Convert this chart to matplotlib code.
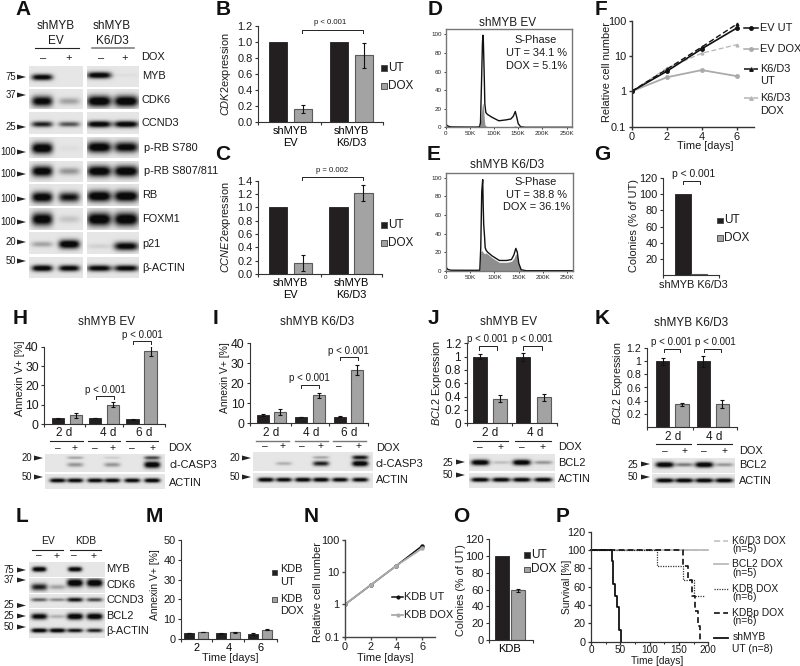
import numpy as np
import matplotlib
matplotlib.use('Agg')
import matplotlib.pyplot as plt
from matplotlib.patches import Polygon

plt.rcParams['font.family'] = ['Liberation Sans', 'DejaVu Sans']
plt.rcParams['mathtext.fontset'] = 'custom'
plt.rcParams['mathtext.it'] = 'Liberation Sans:italic'
plt.rcParams['mathtext.rm'] = 'Liberation Sans'

# ---------- data ----------
b_ut = [1.0, 1.0]; b_dox = [0.17, 0.83]; b_err_dox = [0.05, 0.15]
c_ut = [1.0, 1.0]; c_dox = [0.16, 1.21]; c_err_dox = [0.12, 0.12]
h_ut = [3.2, 3.4, 2.6]; h_dox = [4.7, 10.0, 37.8]; h_err_ut = [0.3, 0.1, 0.3]; h_err_dox = [1.2, 1.3, 2.4]
i_ut = [4.2, 3.2, 3.3]; i_dox = [5.7, 14.0, 26.7]; i_err_ut = [0.4, 0.1, 0.3]; i_err_dox = [1.3, 1.3, 2.4]
j_ut = [1.0, 1.0]; j_dox = [0.37, 0.39]; j_err_ut = [0.04, 0.06]; j_err_dox = [0.05, 0.05]
k_ut = [1.0, 1.0]; k_dox = [0.34, 0.35]; k_err_ut = [0.05, 0.08]; k_err_dox = [0.03, 0.06]
m_ut = [3.0, 2.8, 2.5]; m_dox = [3.5, 3.4, 4.7]; m_err_ut = [0.1, 0.3, 0.3]; m_err_dox = [0.2, 0.2, 0.3]
g_ut = [100]; g_dox = [1]
o_ut = [100]; o_dox = [59]; o_err_dox = [2]

growth_days = [0, 2, 4, 6]
f_ev_ut = [1, 3.7, 16, 62]
f_ev_dox = [1, 2.5, 4.0, 2.7]
f_k6_ut = [1, 4.2, 18, 80]
f_k6_dox = [1, 4.5, 12, 21]
n_kdb_ut = [1, 4.0, 16, 66]
n_kdb_dox = [1, 4.0, 16, 55]

flow_x = [0, 2, 4, 8, 12, 60, 70, 72, 74, 76, 77, 78, 80, 81, 83, 86, 95, 110, 125, 135, 140, 144, 147, 150, 155, 165, 262]
d_ut = [3, 2.5, 1.5, 0.7, 0.4, 0.2, 0.4, 5, 45, 90, 99, 92, 50, 25, 16, 14, 11, 7, 8, 9, 12, 17, 11, 4, 0.6, 0, 0]
d_dox = [0, 0, 0, 0, 0, 0, 0, 5, 16, 25, 26, 22, 8, 3, 1.5, 0.8, 0.5, 0.3, 0.3, 0.5, 1, 1.5, 1, 0.5, 0, 0, 0]
e_ut = [4, 3, 1.5, 0.8, 0.5, 0.4, 0.5, 25, 85, 98, 70, 50, 35, 25, 22, 20, 16, 11, 11, 12, 17, 24, 20, 8, 1, 0, 0]
e_dox = [0, 0, 0, 0, 0, 0, 0, 20, 22, 20, 20, 19, 18, 19, 19, 18, 14, 9, 9, 10, 13, 18, 16, 6, 0.5, 0, 0]

p_days_ut = [0, 36, 36, 38, 38, 41, 41, 44, 44, 47, 47, 52, 52]
p_surv_ut = [100, 100, 87.5, 87.5, 62.5, 62.5, 50, 50, 37.5, 37.5, 12.5, 12.5, 0]
p_days_kdb = [0, 113, 113, 157, 157, 160, 160, 175, 175, 195]
p_surv_kdb = [100, 100, 83, 83, 67, 67, 67, 67, 50, 50]
p_days_kdbp = [0, 157, 157, 165, 165, 172, 172, 177, 177, 182, 182, 186, 186]
p_surv_kdbp = [100, 100, 83, 83, 67, 67, 50, 50, 33, 33, 17, 17, 0]
p_days_k6 = [0, 200]; p_surv_k6 = [100, 100]
p_days_bcl2 = [0, 200]; p_surv_bcl2 = [100, 100]

# western blot band strengths per lane (0..1)
a_left = {'MYB': [.9, 0], 'CDK6': [.9, .25], 'CCND3': [.75, .55], 'S780': [1, .03], 'S807': [.95, .3],
          'RB': [.95, .8], 'FOXM1': [.95, .12], 'p21': [.25, 1], 'ACT': [.95, .9]}
a_right = {'MYB': [.95, .03], 'CDK6': [1, 1], 'CCND3': [.95, .95], 'S780': [.98, .9], 'S807': [.98, 1],
           'RB': [1, 1], 'FOXM1': [1, 1], 'p21': [.08, .9], 'ACT': [.9, .9]}
h_casp = [0, .3, 0, .3, 0, 1]; h_casp2 = [0, .25, 0, .1, 0, .6]; h_act = [.9, .9, .9, .9, .9, .95]
i_casp = [0, .2, 0, .75, 0, 1]; i_casp2 = [0, 0, 0, .25, 0, .8]; i_act = [.95, .9, .95, .95, .9, .9]
j_bcl2 = [1, .15, 1, .3]; j_act = [.95, .95, .95, .95]
k_bcl2 = [1, .4, 1, .3]; k_act = [.95, .95, .95, .95]
l_myb = [1, 0, .95, 0]; l_cdk6 = [.75, .25, 1, 1]; l_ccnd3 = [.5, .35, .8, .6]
l_bcl2 = [.9, .2, 1, 1]; l_act = [.95, .95, .8, .75]

DARK = '#231f20'; GREY = '#a3a3a3'; EDGE = '#5a5a5a'
W, H = 800, 666
FS = 1.06
fig = plt.figure(figsize=(8, 6.66), dpi=100)
ov = fig.add_axes([0, 0, 1, 1], zorder=5)
ov.set_xlim(0, W); ov.set_ylim(H, 0); ov.axis('off'); ov.patch.set_alpha(0)

def axbox(x0, y0, x1, y1):
    return fig.add_axes([x0 / W, 1 - y1 / H, (x1 - x0) / W, (y1 - y0) / H])

def T(x, y, s, size=7.5, ha='center', va='center', **kw):
    ov.text(x, y, s, fontsize=size * FS, ha=ha, va=va, color='#1a1a1a', **kw)

def LET(x, y, s):
    ov.text(x, y, s, fontsize=15, fontweight='bold', ha='center', va='center', color='#111111')

def bracket(x0, x1, ytop, ybot):
    ov.plot([x0, x0, x1, x1], [ybot, ytop, ytop, ybot], color='#222222', lw=0.7)

def hline(x0, x1, y, color='#222222', lw=0.8):
    ov.plot([x0, x1], [y, y], color=color, lw=lw)

def arrow(x, y, w=9, h=5):
    ov.add_patch(Polygon([[x, y - h / 2], [x + w, y], [x, y + h / 2]], closed=True, color='#222222', lw=0))

def sq(x, y, c, s=5.5):
    ov.add_patch(plt.Rectangle((x - s / 2, y - s / 2), s, s, fc=c, ec='#444444', lw=0.6))

def style(ax, color='#333333', lw=0.8):
    for s in ('top', 'right'):
        ax.spines[s].set_visible(False)
    for s in ('left', 'bottom'):
        ax.spines[s].set_color(color); ax.spines[s].set_linewidth(lw)
    ax.patch.set_alpha(0)
    ax.tick_params(colors='#1a1a1a', color=color, width=lw, length=2.5, pad=1.5, labelsize=7.5 * FS)

def bars(box, xlim, off, wid, ut, dox, ymax, yticks, ylabels=None, eu=None, ed=None, group=None, fs=7.5):
    ax = axbox(*box)
    style(ax)
    c = np.arange(len(ut))
    ax.bar(c - off, ut, wid, color=DARK, edgecolor=DARK, lw=0.6)
    ax.bar(c + off, dox, wid, color=GREY, edgecolor=EDGE, lw=0.8)
    ek = dict(fmt='none', ecolor='#111111', elinewidth=0.8, capsize=1.6, capthick=0.8)
    if eu is not None:
        ax.errorbar(c - off, ut, yerr=eu, **ek)
    if ed is not None:
        ax.errorbar(c + off, dox, yerr=ed, **ek)
    ax.set_xlim(*xlim); ax.set_ylim(0, ymax)
    ax.set_yticks(yticks)
    if ylabels is not None:
        ax.set_yticklabels(ylabels)
    ax.tick_params(axis='y', labelsize=fs * FS)
    edges = [xlim[0]] + [i + .5 for i in c[:-1]] + [xlim[1]]
    ax.set_xticks(edges); ax.set_xticklabels([])
    if group is not None:
        ax.set_xticks(c, minor=True); ax.set_xticklabels(group, minor=True, fontsize=fs * FS)
        ax.tick_params(axis='x', which='minor', length=0, pad=3)
    return ax

def blot(x0, y0, x1, y1, lanes, rows, bw=9.0, bg=0.86):
    """rows: list of (band_y_px, strengths, half height)"""
    xs = np.arange(x0, x1, 0.5); ys = np.arange(y0, y1, 0.5)
    X, Y = np.meshgrid(xs, ys)
    dark = np.zeros_like(X)
    for yb, vals, hh in rows:
        yb = yb if np.ndim(yb) else [yb] * len(vals)
        for lx, v, yy in zip(lanes, vals, yb):
            prof = np.exp(-((X - lx) / bw) ** 4) * np.exp(-((Y - yy) / (hh * (0.55 + 0.55 * v))) ** 2)
            dark += v * prof
    img = bg * (1 - np.clip(dark * 1.25, 0, 1)) + 0.04
    ov.imshow(img, extent=(x0, x1, y1, y0), cmap='gray', vmin=0, vmax=1, aspect='auto', interpolation='bilinear', zorder=1)
    ov.set_xlim(0, W); ov.set_ylim(H, 0)

# ---------- panel A ----------
LET(23, 9.5, 'A')
T(55.5, 26, 'shMYB', 8); T(55.5, 40.5, 'EV', 8)
T(112, 26, 'shMYB', 8); T(112, 40.5, 'K6/D3', 8)
hline(35, 79, 48); hline(92, 134, 48, color='#777777', lw=1.1)
for x, s in zip([43, 69, 101, 125], ['–', '+', '–', '+']):
    T(x, 58, s)
T(141.5, 56.5, 'DOX', 7.5, ha='left')
rows_y = [(66, 87), (89, 109), (112, 134), (137, 158), (161, 182), (184, 206), (208, 230), (232, 254), (257, 278)]
band_y = [77, 101, 124, 148, 171, 197, 219, 244, 268]
band_yr = [75, 101, 124, 147, 171, 196, 219, 246, 268]
names = ['MYB', 'CDK6', 'CCND3', 'S780', 'S807', 'RB', 'FOXM1', 'p21', 'ACT']
hh = [3, 5, 3, 5, 5, 5, 6, 4, 3]
for (y0, y1), yb, yr, n, h_ in zip(rows_y, band_y, band_yr, names, hh):
    blot(29, y0, 83, y1, [42, 69], [(yb, a_left[n], h_)], bw=10.5)
    blot(87, y0, 139, y1, [99, 126], [(yr, a_right[n], h_)], bw=12)
labs = ['MYB', 'CDK6', 'CCND3', 'p-RB S780', 'p-RB S807/811', 'RB', 'FOXM1', 'p21', 'β-ACTIN']
laby = [76, 100, 123, 148, 171, 195, 219, 244, 268]
labx = [142, 142, 142, 144, 144, 142, 142, 142, 142]
for s, x, y in zip(labs, labx, laby):
    T(x, y, s, 7.5, ha='left')
for s, y, xr in [('75', 77, 16), ('37', 95, 16), ('25', 127, 16), ('100', 152, 16), ('100', 174, 16), ('100', 199, 16), ('100', 222, 16), ('20', 242, 16), ('50', 261, 16)]:
    T(xr, y, s, 6.5, ha='right'); arrow(17, y)

# ---------- panel B ----------
LET(223, 9.5, 'B')
bars((258, 25.7, 383, 122.3), (-.53, 1.52), .205, .3, b_ut, b_dox, 1.2,
     [0, .2, .4, .6, .8, 1, 1.2], ['0.0', '0.2', '0.4', '0.6', '0.8', '1.0', '1.2'],
     ed=b_err_dox, group=['shMYB\nEV', 'shMYB\nK6/D3'], fs=7.5)
T(226, 74, r'$\mathit{CDK2}$expression', 7.5, rotation=90)
bracket(302, 363, 30, 33); T(330, 23, 'p < 0.001', 5.3)
sq(384, 68, DARK); T(388, 68, 'UT', 8, ha='left')
sq(384, 86, GREY); T(388, 86, 'DOX', 8, ha='left')

# ---------- panel C ----------
LET(223, 154, 'C')
bars((258, 180.7, 382, 274), (-.53, 1.51), .205, .3, c_ut, c_dox, 1.4,
     [0, .2, .4, .6, .8, 1, 1.2, 1.4], ['0.0', '0.2', '0.4', '0.6', '0.8', '1.0', '1.2', '1.4'],
     ed=c_err_dox, group=['shMYB\nEV', 'shMYB\nK6/D3'], fs=7.5)
T(226, 227, r'$\mathit{CCNE2}$expression', 7.5, rotation=90)
bracket(302, 363, 177, 180); T(332, 170, 'p = 0.002', 5.3)
sq(384, 225, DARK); T(388, 225, 'UT', 8, ha='left')
sq(384, 243, GREY); T(388, 243, 'DOX', 8, ha='left')

# ---------- panels D, E ----------
def flow(box, ut, dox, title, xt, yt, txt):
    ax = axbox(*box)
    ax.fill_between(flow_x, dox, color='#8e8e8e', lw=0)
    ax.plot(flow_x, ut, color='#111111', lw=1.0)
    ax.set_xlim(0, 262); ax.set_ylim(0, 105.4)
    ax.set_xticks([0, 50, 100, 150, 200, 250], ['0', '50K', '100K', '150K', '200K', '250K'])
    ax.set_yticks([0, 20, 40, 60, 80, 100])
    ax.tick_params(labelsize=4.5, length=1.5, width=0.6, pad=1.5, colors='#222222')
    for s in ax.spines.values():
        s.set_color('#777777'); s.set_linewidth(1.0)
    T(xt, yt, title, 8)
    for (x, y, s) in txt:
        T(x, y, s, 7.5)

LET(435, 9.5, 'D')
flow((445.7, 29.3, 572.3, 127.3), d_ut, d_dox, 'shMYB EV', 508, 22.5,
     [(535.5, 40, 'S-Phase'), (537, 53, 'UT = 34.1 %'), (537, 66, 'DOX = 5.1%')])
LET(434, 155, 'E')
flow((445.7, 172.7, 573.3, 270.7), e_ut, e_dox, 'shMYB K6/D3', 507, 165,
     [(535.5, 182, 'S-Phase'), (537, 195, 'UT = 38.8 %'), (537, 207.5, 'DOX = 36.1%')])

# ---------- panel F ----------
LET(601, 9.5, 'F')
ax = axbox(631.7, 20.7, 754.3, 126.7)
style(ax, lw=1.0)
ax.set_yscale('log')
ax.plot(growth_days, f_k6_dox, color='#b5b5b5', ls=(0, (4, 2)), lw=0.9, marker='^', ms=2)
ax.plot(growth_days, f_ev_dox, color='#aaaaaa', lw=1.3, marker='o', ms=2.5)
ax.plot(growth_days, f_ev_ut, color='#111111', lw=1.2, marker='o', ms=2.5)
ax.plot(growth_days, f_k6_ut, color='#111111', ls=(0, (4, 2)), lw=1.0, marker='^', ms=2)
ax.set_xlim(0, 7); ax.set_ylim(.1, 100)
ax.set_xticks([0, 2, 4, 6]); ax.set_yticks([.1, 1, 10, 100], ['0.1', '1', '10', '100'])
ax.minorticks_off()
T(606.5, 72, 'Relative cell number', 7.5, rotation=90)
T(705.5, 146, 'Time [days]', 7.5)
for y, c, ls, mk, lab in [(28, '#111111', '-', 'o', ['EV UT']), (49, '#aaaaaa', '-', 'o', ['EV DOX']),
                          (69, '#111111', (0, (4, 2)), '^', ['K6/D3', 'UT']), (98, '#b5b5b5', (0, (4, 2)), '^', ['K6/D3', 'DOX'])]:
    ov.plot([744, 758], [y, y], color=c, ls=ls, lw=1.1)
    ov.plot([751], [y], color=c, marker=mk, ms=2.5)
    T(760, y, lab[0], 7.5, ha='left')
    if len(lab) > 1:
        T(760, y + 12.5, lab[1], 7.5, ha='left')

# ---------- panel G ----------
LET(602, 155, 'G')
ax = bars((663, 178, 719, 275), (-.5, .5), .145, .29, g_ut, g_dox, 120, [20, 40, 60, 80, 100, 120], fs=7.5)
ax.set_xticks([-.5, .5]); ax.set_xticklabels([])
bracket(683, 699.5, 181, 184); T(693.5, 174, 'p < 0.001', 7)
T(693, 285, 'shMYB K6/D3', 7.5)
T(634, 226, 'Colonies (% of UT)', 7.5, rotation=90)
sq(720, 220.5, DARK); T(724, 220, 'UT', 8, ha='left')
sq(720, 238, GREY); T(724, 238, 'DOX', 8, ha='left')

# ---------- panel H ----------
LET(20, 319, 'H')
T(106.5, 322, 'shMYB EV', 8)
bars((44.3, 346.7, 165, 424.3), (-.6, 2.625), .24, .33, h_ut, h_dox, 40, [0, 10, 20, 30, 40],
     eu=h_err_ut, ed=h_err_dox, fs=8.2)
T(20, 378, 'Annexin V+ [%]', 7.5, rotation=90)
bracket(96, 114, 396, 399); T(105.5, 390, 'p < 0.001', 6.6)
bracket(132.5, 150.5, 341, 344); T(142.5, 335, 'p < 0.001', 6.6)
for x, s in zip([64.5, 108, 144.5], ['2 d', '4 d', '6 d']):
    T(x, 433.5, s, 8)
for a, b in [(50, 83), (87.5, 120), (126, 158)]:
    hline(a, b, 441)
lanes = [57.5, 75, 95, 112, 132, 152]
for x, s in zip(lanes, ['–', '+', '–', '+', '–', '+']):
    T(x, 448, s, 7)
T(168.5, 448, 'DOX', 7.5, ha='left')
blot(45, 454.5, 165, 472.5, lanes, [(465, h_casp, 3), (458, h_casp2, 2)], bw=8)
blot(45, 475, 165, 489.5, lanes, [(481, h_act, 2)], bw=8)
T(169, 465, 'cl-CASP3', 7.5, ha='left'); T(169, 482.5, 'ACTIN', 7.5, ha='left')
T(32, 458, '20', 6.5, ha='right'); arrow(34, 458)
T(32, 477, '50', 6.5, ha='right'); arrow(34, 477)

# ---------- panel I ----------
LET(216, 319, 'I')
T(317, 322, 'shMYB K6/D3', 8)
bars((250, 343.3, 368.3, 423.3), (-.565, 2.52), .225, .31, i_ut, i_dox, 40, [0, 10, 20, 30, 40],
     eu=i_err_ut, ed=i_err_dox, fs=8.2)
T(225, 378, 'Annexin V+ [%]', 7, rotation=90)
bracket(301, 319, 385, 388); T(309, 378, 'p < 0.001', 6.6)
bracket(339.5, 357.5, 357, 360); T(348, 351, 'p < 0.001', 6.6)
for x, s in zip([271, 311, 349], ['2 d', '4 d', '6 d']):
    T(x, 433, s, 8)
for a, b in [(256, 289), (295, 328), (333, 366)]:
    hline(a, b, 441, color='#777777', lw=1)
lanes = [265, 283, 302, 320, 339, 359]
for x, s in zip(lanes, ['–', '+', '–', '+', '–', '+']):
    T(x, 446, s, 7)
T(376.5, 448, 'DOX', 7.5, ha='left')
blot(252.5, 453, 372, 471.5, lanes, [(464, i_casp, 2.5), (458, i_casp2, 2)], bw=8)
blot(252.5, 473.5, 372, 488.5, lanes, [(480, i_act, 2)], bw=8)
T(376, 464, 'cl-CASP3', 7.5, ha='left'); T(376, 480, 'ACTIN', 7.5, ha='left')
T(240, 458, '20', 6.5, ha='right'); arrow(242, 458)
T(240, 477, '50', 6.5, ha='right'); arrow(242, 477)

# ---------- panel J ----------
LET(433, 319, 'J')
T(508.5, 322, 'shMYB EV', 8)
bars((466.7, 343.3, 557.3, 423.3), (-.54, 1.55), .238, .32, j_ut, j_dox, 1.2,
     [0, .2, .4, .6, .8, 1, 1.2], ['0', '0.2', '0.4', '0.6', '0.8', '1', '1.2'],
     eu=j_err_ut, ed=j_err_dox, fs=8)
T(437, 383, r'$\mathit{BCL2}$ Expression', 7.5, rotation=90)
bracket(479, 496.5, 346, 349.5); T(487.5, 339.5, 'p < 0.001', 6.6)
bracket(523, 541.5, 346, 349.5); T(532, 339.5, 'p < 0.001', 6.6)
T(490, 433.5, '2 d', 8); T(535, 433.5, '4 d', 8)
hline(472.5, 508, 441); hline(515, 551, 441)
lanes = [480, 501, 521.5, 543]
for x, s in zip(lanes, ['–', '+', '–', '+']):
    T(x, 447, s, 7)
T(558, 447, 'DOX', 7.5, ha='left')
blot(469, 454.5, 555, 471, lanes, [(462.5, j_bcl2, 2.5)])
blot(469, 473.5, 555, 488.5, lanes, [(480, j_act, 2)])
T(558, 462.5, 'BCL2', 7.5, ha='left'); T(558, 479, 'ACTIN', 7.5, ha='left')
T(453, 462.5, '25', 6.5, ha='right'); arrow(456, 462)
T(453, 475.5, '50', 6.5, ha='right'); arrow(456, 475)

# ---------- panel K ----------
LET(602, 319, 'K')
T(691.5, 323.5, 'shMYB K6/D3', 8)
bars((646.7, 348.3, 737.3, 426.7), (-.63, 1.6), .234, .33, k_ut, k_dox, 1.2,
     [.2, .4, .6, .8, 1, 1.2], ['0.2', '0.4', '0.6', '0.8', '1', '1.2'],
     eu=k_err_ut, ed=k_err_dox, fs=7.2)
T(618, 383, r'$\mathit{BCL2}$ Expression', 7.2, rotation=90)
bracket(663.5, 680, 348.5, 352); T(671.5, 342, 'p < 0.001', 6.6)
bracket(704, 721, 348.5, 352); T(715, 342, 'p < 0.001', 6.6)
T(673, 436.5, '2 d', 8); T(714, 436.5, '4 d', 8)
hline(656, 690.5, 444); hline(696.5, 732, 444)
lanes = [664.5, 684, 704, 724]
for x, s in zip(lanes, ['–', '+', '–', '+']):
    T(x, 451, s, 7)
T(739, 451, 'DOX', 7.5, ha='left')
blot(652, 458, 735, 473, lanes, [(464.5, k_bcl2, 2.5)])
blot(652, 475, 735, 488.5, lanes, [(481, k_act, 2)])
T(739, 464.5, 'BCL2', 7.5, ha='left'); T(739, 481, 'ACTIN', 7.5, ha='left')
T(638, 464.5, '25', 6.5, ha='right'); arrow(641, 464)
T(638, 477.5, '50', 6.5, ha='right'); arrow(641, 477)

# ---------- panel L ----------
LET(22, 517, 'L')
T(47.5, 541, 'EV', 7); T(85.5, 541, 'KDB', 7)
hline(32, 62.5, 549.5); hline(69.5, 100.5, 549.5)
lanes = [38.5, 56.5, 74, 93.5]
for x, s in zip(lanes, ['–', '+', '–', '+']):
    T(x, 555.5, s, 7)
blot(28.5, 562.5, 104, 577.5, lanes, [(569.5, l_myb, 2.3)], bw=7)
blot(28.5, 578.5, 104, 593, lanes, [([587, 587, 583, 583], l_cdk6, 3.5)], bw=8)
blot(28.5, 594.5, 104, 608.5, lanes, [(600, l_ccnd3, 2.2)], bw=8)
blot(28.5, 609.5, 104, 624, lanes, [(616.5, l_bcl2, 2.8)], bw=8)
blot(28.5, 625, 104, 638.5, lanes, [(631, l_act, 2)], bw=8)
for y, s in zip([569, 585, 600, 616, 631], ['MYB', 'CDK6', 'CCND3', 'BCL2', 'β-ACTIN']):
    T(106.5, y, s, 7.5, ha='left')
for y, s in zip([570, 580, 605.5, 616, 627], ['75', '37', '25', '25', '50']):
    T(14, y, s, 6.5, ha='right'); arrow(17, y)

# ---------- panel M ----------
LET(154, 517, 'M')
bars((181, 540, 277.3, 639), (-.48, 2.53), .22, .31, m_ut, m_dox, 50, [0, 10, 20, 30, 40, 50],
     eu=m_err_ut, ed=m_err_dox, group=['2', '4', '6'], fs=7.5)
T(230, 658, 'Time [days]', 7.5)
T(155, 585, 'Annexin V+ [%]', 7, rotation=90)
sq(274.5, 572.5, DARK); T(280.5, 569.5, 'KDB', 7.5, ha='left'); T(280.5, 582, 'UT', 7.5, ha='left')
sq(274.5, 599.5, GREY); T(280.5, 598.5, 'KDB', 7.5, ha='left'); T(280.5, 611, 'DOX', 7.5, ha='left')

# ---------- panel N ----------
LET(311, 517, 'N')
ax = axbox(345, 540, 435, 636.7)
style(ax, color='#444444', lw=1.0)
ax.set_yscale('log')
ax.plot(growth_days, n_kdb_ut, color='#111111', lw=1.1, marker='o', ms=2.2)
ax.plot(growth_days, n_kdb_dox, color='#aaaaaa', lw=1.3, marker='o', ms=2.2)
ax.set_xlim(0, 7); ax.set_ylim(.1, 100)
ax.set_xticks([0, 2, 4, 6]); ax.set_yticks([.1, 1, 10, 100], ['0.1', '1', '10', '100'])
ax.minorticks_off()
T(318, 592, 'Relative cell number', 7.5, rotation=90)
T(385, 658, 'Time [days]', 7.5)
ov.plot([392, 403], [597, 597], color='#111111', lw=1.1); ov.plot([398], [597], color='#111111', marker='o', ms=2)
T(404, 596.5, 'KDB UT', 7.5, ha='left')
ov.plot([392, 403], [615, 615], color='#aaaaaa', lw=1.3); ov.plot([398], [615], color='#aaaaaa', marker='o', ms=2)
T(404, 615, 'KDB DOX', 7.5, ha='left')

# ---------- panel O ----------
LET(461, 517, 'O')
ax = bars((489.3, 539, 533.3, 640), (-.47, .53), .18, .32, o_ut, o_dox, 120, [0, 20, 40, 60, 80, 100, 120],
          ed=o_err_dox, group=['KDB'], fs=7.6)
T(461, 590, 'Colonies (% of UT)', 7.3, rotation=90)
sq(527, 555, DARK); T(531, 555, 'UT', 8, ha='left')
sq(527, 569.5, GREY); T(531, 569.5, 'DOX', 8, ha='left')

# ---------- panel P ----------
LET(563, 517, 'P')
ax = axbox(591, 531.7, 708.3, 641.7)
style(ax, lw=0.9)
ax.plot(p_days_bcl2, p_surv_bcl2, color='#bbbbbb', lw=1.3, clip_on=False)
ax.plot(p_days_k6, p_surv_k6, color='#bdbdbd', lw=1.1, ls=(0, (4, 2)), clip_on=False)
ax.plot(p_days_kdb, p_surv_kdb, color='#333333', lw=0.9, ls=(0, (1, 1)), clip_on=False)
ax.plot(p_days_kdbp, p_surv_kdbp, color='#111111', lw=1.2, ls=(0, (3.5, 2)), clip_on=False)
ax.plot(p_days_ut, p_surv_ut, color='#111111', lw=1.3, clip_on=False)
ax.set_xlim(0, 200); ax.set_ylim(0, 120)
ax.set_xticks([0, 50, 100, 150, 200]); ax.set_xticks([25, 75, 125, 175], minor=True)
ax.tick_params(axis='x', which='minor', length=1.5, width=.6)
ax.tick_params(axis='x', which='major', length=2, pad=0.3, labelsize=7.2)
ax.set_yticks([0, 20, 40, 60, 80, 100, 120])
T(657, 661.5, 'Time [days]', 6.9)
T(567.5, 587, 'Survival [%]', 7, rotation=90)
legend_p = [(541, '#bdbdbd', (0, (4, 2)), 1.1, ['K6/D3 DOX', '(n=5)'], [540.5, 549.5]),
            (564, '#bbbbbb', '-', 1.3, ['BCL2 DOX', '(n=5)'], [564, 573.5]),
            (589, '#333333', (0, (1, 1)), .9, ['KDB DOX', '(n=6)'], [588.5, 597.5]),
            (612.7, '#111111', (0, (3.5, 2)), 1.2, ['KDBp DOX', '(n=6)'], [612.5, 621.5]),
            (637.5, '#111111', '-', 1.3, ['shMYB', 'UT (n=8)'], [637, 649.5])]
for y, c, ls, lw, labs_, ys in legend_p:
    ov.plot([714, 728], [y, y], color=c, ls=ls, lw=lw)
    for s, yy in zip(labs_, ys):
        T(732.5, yy, s, 7, ha='left')

fig.savefig('out.png', dpi=100)
